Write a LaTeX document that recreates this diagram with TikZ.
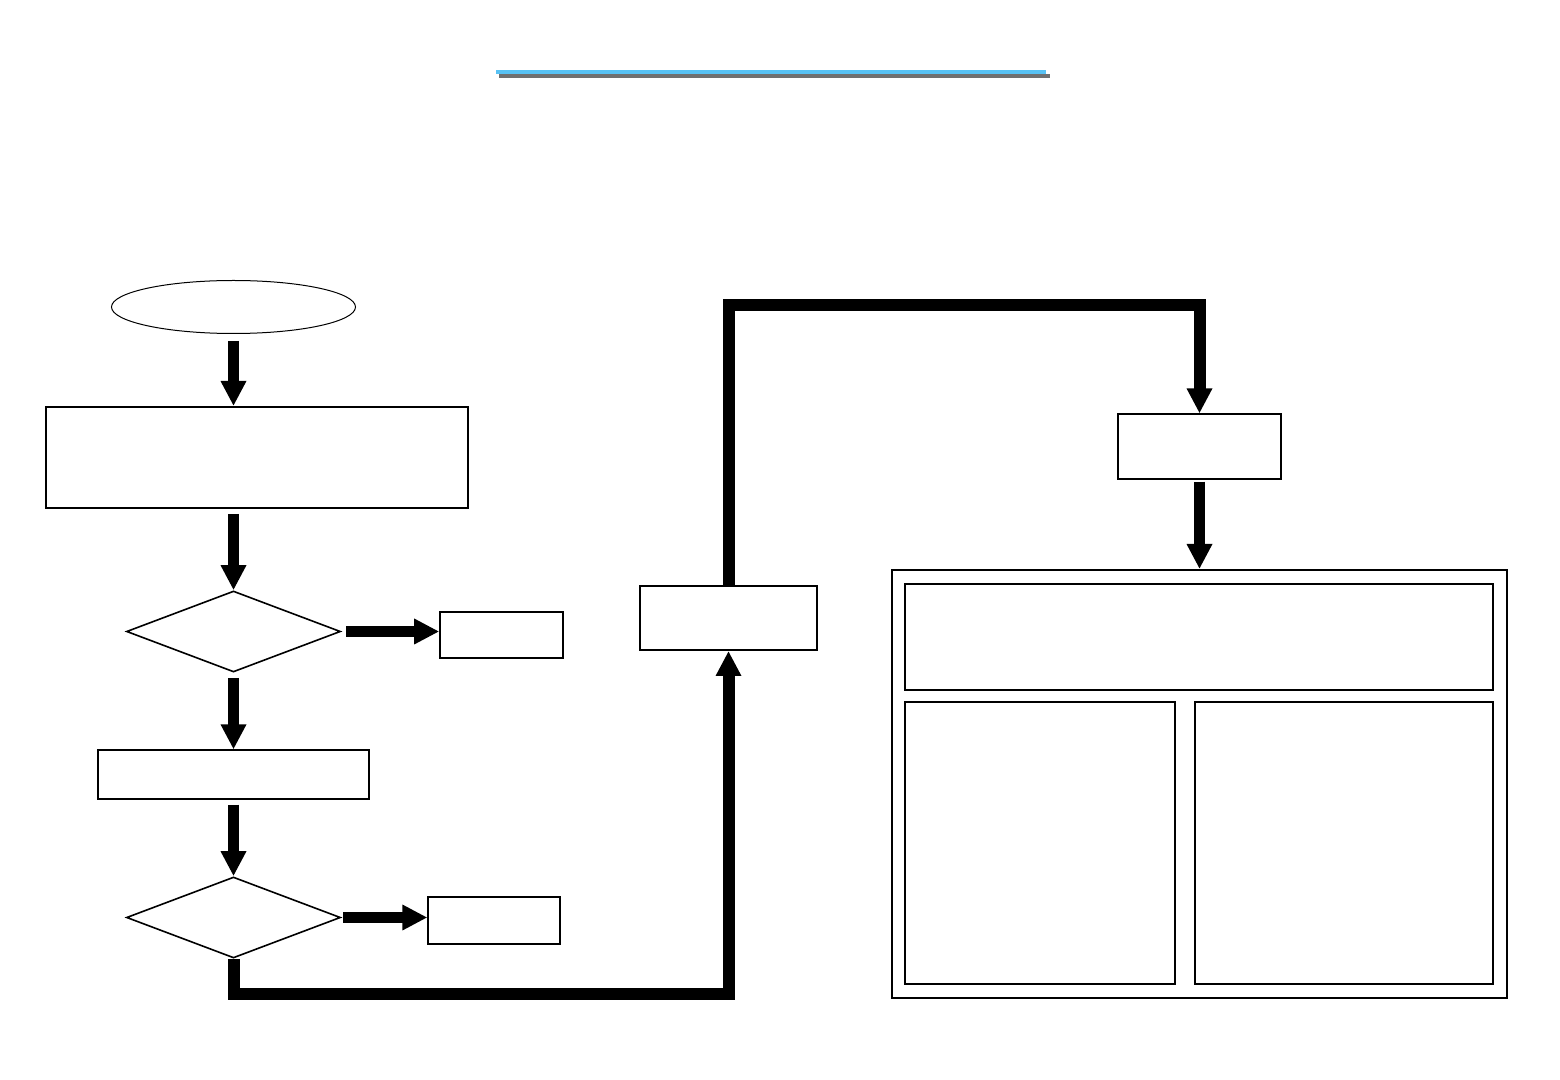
\documentclass[tikz,border=0pt]{standalone}
\usetikzlibrary{shapes.geometric,arrows.meta}

\definecolor{titleblue}{RGB}{88,194,244}
\definecolor{titlegray}{RGB}{112,112,112}

\begin{document}
\begin{tikzpicture}[x=0.5pt,y=-0.5pt]
    % Define basic node styles
    \tikzset{
        box/.style={
            rectangle,
            draw,
            line width=1pt,
            inner sep=0pt
        },
        thinbox/.style={
            rectangle,
            draw,
            line width=0.6pt,
            inner sep=0pt
        },
        decision/.style={
            diamond,
            draw,
            line width=0.8pt,
            inner sep=0pt,
            minimum width=107pt,
            minimum height=40.5pt
        },
        startnode/.style={
            ellipse,
            draw,
            line width=0.5pt,
            inner sep=0pt,
            minimum width=122pt,
            minimum height=26.5pt
        },
        fatarrow/.style={
            line width=5.5pt,
            -{Triangle[length=12.5pt,width=12pt]}
        },
        loopline/.style={
            line width=6pt,
            -{Triangle[length=12.5pt,width=12pt]}
        }
    }
    \useasboundingbox (0,0) rectangle (1560,1080);

    % Title rule
    \draw[titlegray, line width=2pt] (499,76) -- (1050,76);
    \draw[titleblue, line width=2pt] (496,72) -- (1046,72);

    % Left column
    \node[startnode] (start) at (233.5,307) {};
    \node[box, minimum width=211pt, minimum height=50.5pt] (input) at (257,457.5) {};
    \node[decision] (check1) at (233.5,631.5) {};
    \node[thinbox, line width=0.8pt, minimum width=61.5pt, minimum height=23pt] (stop1) at (501.5,635) {};
    \node[thinbox, minimum width=135.5pt, minimum height=24.5pt] (process) at (233.5,774.5) {};
    \node[decision] (check2) at (233.5,917.5) {};
    \node[thinbox, minimum width=66pt, minimum height=23.5pt] (stop2) at (494,920.5) {};

    % Middle and right
    \node[box, minimum width=88.5pt, minimum height=32pt] (middle) at (728.5,618) {};
    \node[thinbox, minimum width=81.5pt, minimum height=32.5pt] (target) at (1199.5,446.5) {};
    \node[box, minimum width=307.5pt, minimum height=214pt] (panel) at (1199.5,784) {};
    \node[thinbox, minimum width=294pt, minimum height=53pt] (paneltop) at (1199,637) {};
    \node[thinbox, minimum width=135pt, minimum height=141pt] (panelleft) at (1040,843) {};
    \node[thinbox, minimum width=149pt, minimum height=141pt] (panelright) at (1344,843) {};

    % Connections down the left column
    \draw[fatarrow, shorten <=3.5pt] (start.south) -- (start.south |- input.north);
    \draw[fatarrow, shorten <=2.5pt] (check1.north |- input.south) -- (check1.north);
    \draw[fatarrow, shorten <=2.5pt] (check1.south) -- (process.north);
    \draw[fatarrow, shorten <=2.5pt] (process.south) -- (check2.north);

    % Side exits
    \draw[fatarrow, shorten <=2.5pt] (check1.east) -- (check1.east -| stop1.west);
    \draw[fatarrow, shorten <=1pt] (check2.east) -- (check2.east -| stop2.west);

    % Loop connections
    \coordinate (bend1) at (233.5,994);
    \coordinate (bend2) at (728.5,305);
    \draw[loopline] (check2.south) -- (check2.south |- bend1) -| (middle.south);
    \draw[loopline] (middle.north) -- (middle.north |- bend2) -| (target.north);
    \draw[fatarrow, shorten <=1pt] (target) -- (panel);
\end{tikzpicture}
\end{document}
